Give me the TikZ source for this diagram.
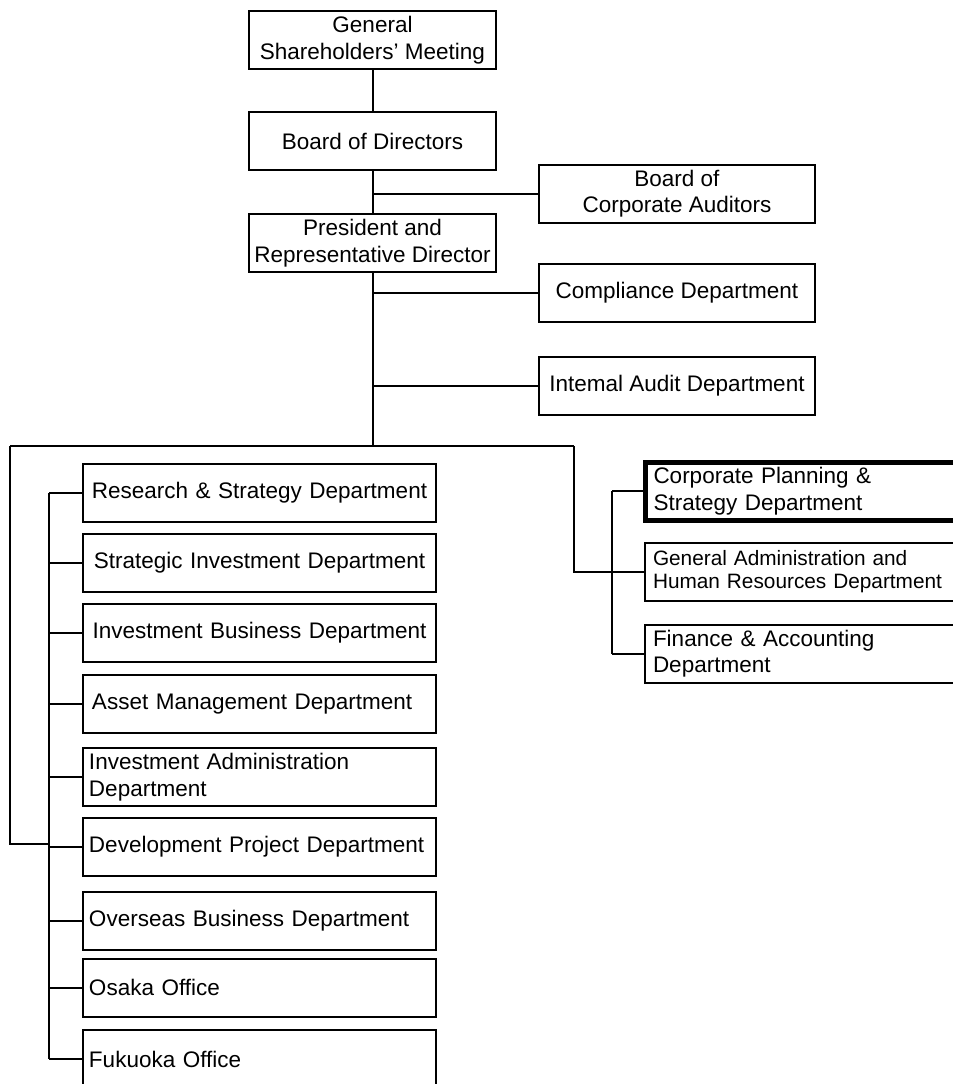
\documentclass[tikz,border=0pt]{standalone}
\usepackage{fontspec}
\setmainfont{Liberation Sans}

\begin{document}
\begin{tikzpicture}[x=0.5pt, y=-0.5pt,
    box/.style={draw, line width=1pt, inner sep=0pt, minimum height=29pt,
        font=\fontsize{11.25}{13.2}\selectfont},
    topbox/.style={box, minimum width=123.5pt, align=center},
    sidebox/.style={box, minimum width=138pt, align=center},
    deptbox/.style={box, anchor=west, minimum width=176.5pt, inner xsep=3pt, text width=170.5pt},
    rightbox/.style={box, anchor=west, minimum width=165pt, inner xsep=4pt, text width=157pt, align=left},
    link/.style={line width=1pt}
]

    %% Background
    \useasboundingbox (0,0) rectangle (953,1084);

    % Top of the chart
    \node[topbox] (gsm) at (372.5,40) {General\\Shareholders' Meeting};
    \node[topbox] (bod) at (372.5,141) {Board of Directors};
    \node[topbox] (pres) at (372.5,243) {President and\\Representative Director};

    % Boxes on the side
    \node[sidebox] (bca) at (677,193.5) {Board of\\Corporate Auditors};
    \node[sidebox] (comp) at (677,293) {Compliance Department};
    \node[sidebox] (iad) at (677,386) {Intemal Audit Department};

    % Departments on the left
    \node[deptbox, align=center] (rsd) at (82,492.5) {Research \& Strategy Department};
    \node[deptbox, align=center] (sid) at (82,562.5) {Strategic Investment Department};
    \node[deptbox, align=center] (ibd) at (82,633) {Investment Business Department};
    \node[deptbox, align=left] (amd) at (82,704) {\hspace*{1.5pt}Asset Management Department};
    \node[deptbox, align=left] (iadm) at (82,777) {Investment Administration\\Department};
    \node[deptbox, align=left] (dpd) at (82,847) {Development Project Department};
    \node[deptbox, align=left] (obd) at (82,921) {Overseas Business Department};
    \node[deptbox, align=left] (osk) at (82,987.5) {Osaka Office};
    \node[deptbox, align=left] (fuk) at (82,1059) {Fukuoka Office};

    % Departments on the right
    \node[rightbox, line width=2.5pt] (cps) at (643,491) {Corporate Planning \&\\Strategy Department};
    \node[rightbox, font=\fontsize{10.4}{11.5}\selectfont] (gah) at (644,572) {General Administration and\\Human Resources Department};
    \node[rightbox] (fin) at (644,653.5) {Finance \& Accounting\\Department};

    % Lines
    \coordinate (barL) at (10,446);
    \coordinate (barR) at (574,446);
    \coordinate (barT) at (372.5,446);
    \coordinate (ljoin) at (49,844);
    \coordinate (lbus) at (49,0);
    \coordinate (rbus) at (612,0);

    \draw[link] (gsm.south) -- (bod.north);
    \draw[link] (bod.south) -- (pres.north);
    \draw[link] (bod.south |- bca.west) -- (bca.west);
    \draw[link] (pres.south) -- (barT);
    \draw[link] (pres.south |- comp.west) -- (comp.west);
    \draw[link] (pres.south |- iad.west) -- (iad.west);

    \draw[link] (barL) -- (barR);
    \draw[link] (barL) |- (ljoin);
    \draw[link] (barR) |- (gah.west);

    \draw[link] (lbus |- rsd.west) -- (lbus |- fuk.west);
    \foreach \n in {rsd,sid,ibd,amd,iadm,dpd,obd,osk,fuk}
    {
    \draw[link] (lbus |- \n.west) -- (\n.west);
    }

    \draw[link] (rbus |- cps.west) -- (rbus |- fin.west);
    \foreach \n in {cps,gah,fin}
    {
    \draw[link] (rbus |- \n.west) -- (\n.west);
    }

\end{tikzpicture}
\end{document}
